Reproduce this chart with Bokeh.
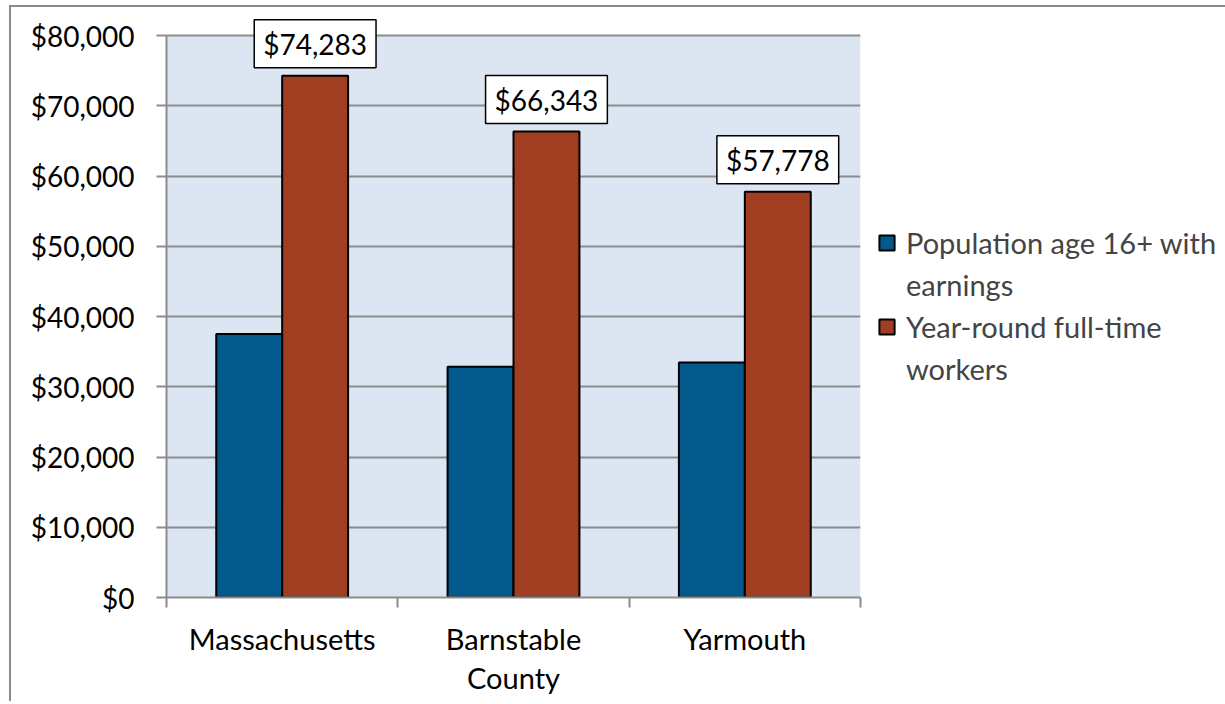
from bokeh.plotting import figure
from bokeh.models import (ColumnDataSource, Range1d, FixedTicker, NumeralTickFormatter,
                          Legend, LegendItem, Label, BoxAnnotation)
from bokeh.embed import file_html
from bokeh.resources import INLINE

categories = ["Massachusetts", "Barnstable\nCounty", "Yarmouth"]
legend_lines = [["Population age 16+ with", "earnings"], ["Year-round full-time", "workers"]]
earners = [37500, 32850, 33450]
fulltime = [74283, 66343, 57778]
y_ticks = [0, 10000, 20000, 30000, 40000, 50000, 60000, 70000, 80000]

BLUE = "#02598C"
RED = "#A13E21"
GRID = "#8C8C8C"
FONT = "Lato"
FS_NUM = "28px"
FS_TXT = "29px"

n = len(categories)
centers = [i + 0.5 for i in range(n)]
bw = 0.285
src_a = ColumnDataSource(dict(x=[c - bw / 2 for c in centers], top=earners))
src_b = ColumnDataSource(dict(x=[c + bw / 2 for c in centers], top=fulltime))

p = figure(width=1210, height=694, frame_width=694, frame_height=583,
           x_range=Range1d(0, n), y_range=Range1d(0, 83000),
           output_backend="svg", toolbar_location=None,
           min_border_left=155, min_border_top=7, min_border_right=361, min_border_bottom=104)
p.styles = {"margin-left": "9px", "margin-top": "5px",
            "border-left": "2px solid #8C8C8C", "border-top": "2px solid #8C8C8C"}
p.background_fill_color = "white"
p.border_fill_color = "white"
p.outline_line_color = None

# plot area background (0..80000)
p.add_layout(BoxAnnotation(left=0, right=n, bottom=0, top=y_ticks[-1],
                           fill_color="#DCE6F2", fill_alpha=1, line_color=None,
                           level="image"))

r1 = p.vbar(x="x", top="top", width=bw, source=src_a, fill_color=BLUE,
            line_color="black", line_width=2)
r2 = p.vbar(x="x", top="top", width=bw, source=src_b, fill_color=RED,
            line_color="black", line_width=2)
blank = p.vbar(x=[], top=[], width=bw, fill_alpha=0, line_alpha=0)

for xv, v in zip(src_b.data["x"], fulltime):
    p.add_layout(Label(x=xv, y=v, text=f"${v:,}", text_align="center",
                       text_baseline="bottom", y_offset=8, text_font=FONT, text_font_size=FS_NUM,
                       text_color="black", background_fill_color="white",
                       border_line_color="black", border_line_width=1.5, padding=(9, 7)))

# axes
p.xgrid.visible = False
p.ygrid.ticker = FixedTicker(ticks=y_ticks)
p.ygrid.grid_line_color = GRID
p.ygrid.grid_line_width = 2

ya = p.yaxis[0]
ya.ticker = FixedTicker(ticks=y_ticks)
ya.bounds = (y_ticks[0], y_ticks[-1])
ya.formatter = NumeralTickFormatter(format="$0,0")
ya.axis_line_color = GRID
ya.axis_line_width = 2
ya.major_tick_line_color = GRID
ya.major_tick_line_width = 2
ya.major_tick_out = 10
ya.major_tick_in = 0
ya.minor_tick_line_color = None
ya.major_label_text_font = FONT
ya.major_label_text_font_size = FS_NUM
ya.major_label_text_color = "black"
ya.major_label_standoff = 22

xa = p.xaxis[0]
xa.ticker = FixedTicker(ticks=centers, minor_ticks=list(range(n + 1)))
xa.major_label_overrides = {c: cat for c, cat in zip(centers, categories)}
xa.axis_line_color = GRID
xa.axis_line_width = 2
xa.major_tick_line_color = None
xa.major_tick_out = 0
xa.major_tick_in = 0
xa.minor_tick_line_color = GRID
xa.minor_tick_line_width = 2
xa.minor_tick_out = 10
xa.minor_tick_in = 0
xa.major_label_text_font = FONT
xa.major_label_text_font_size = FS_TXT
xa.major_label_text_color = "black"
xa.major_label_standoff = 13
xa.major_label_text_line_height = 1.12

items = []
for rend, lines in zip([r1, r2], legend_lines):
    items.append(LegendItem(label=lines[0], renderers=[rend]))
    for extra in lines[1:]:
        items.append(LegendItem(label=extra, renderers=[blank]))

legend = Legend(items=items, location=(17, 211))
legend.label_text_font = FONT
legend.label_text_font_size = FS_TXT
legend.glyph_width = 19
legend.glyph_height = 19
legend.label_standoff = 10
legend.spacing = 7
legend.padding = 10
legend.margin = 0
legend.border_line_color = None
legend.background_fill_alpha = 0
p.add_layout(legend, "right")

open("out.html", "w").write(file_html(p, INLINE))
